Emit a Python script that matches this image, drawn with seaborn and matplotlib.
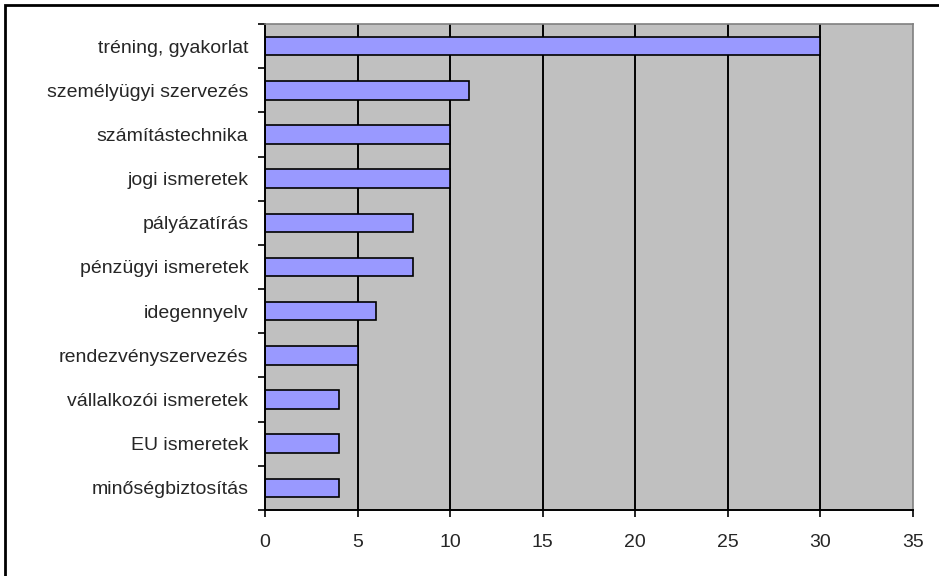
import matplotlib.pyplot as plt
import numpy as np
import pandas as pd
import seaborn as sns
from matplotlib.patches import Rectangle

categories = ["tréning, gyakorlat", "személyügyi szervezés", "számítástechnika",
              "jogi ismeretek", "pályázatírás", "pénzügyi ismeretek", "idegennyelv",
              "rendezvényszervezés", "vállalkozói ismeretek", "EU ismeretek",
              "minőségbiztosítás"]
values = [30, 11, 10, 10, 8, 8, 6, 5, 4, 4, 4]
x_ticks = [0, 5, 10, 15, 20, 25, 30, 35]

df = pd.DataFrame({"cat": categories, "val": values})

sns.set_theme(style="white", rc={"xtick.bottom": True, "ytick.left": True})
plt.rcParams['font.family'] = ['Liberation Sans', 'DejaVu Sans']

fig = plt.figure(figsize=(9.39, 5.76), dpi=100)
ax = fig.add_axes([265 / 939, 1 - 510 / 576, (913 - 265) / 939, (510 - 24) / 576])
ax.set_facecolor("#C0C0C0")

sns.barplot(data=df, x="val", y="cat", orient="h", color="#9999FF",
            saturation=1, edgecolor="black", linewidth=1.2, width=0.42, ax=ax)

ax.set_xlim(0, 35)
ax.set_ylim(len(categories) - 0.5, -0.5)
ax.set_xticks(x_ticks)
ax.set_xticklabels([str(t) for t in x_ticks], fontsize=14)
for t in x_ticks[1:-1]:
    ax.axvline(t, color="black", linewidth=1.4, zorder=0.5)
ax.set_axisbelow(True)

ax.set_yticks(range(len(categories)))
ax.set_yticklabels(categories, fontsize=14)
ax.tick_params(axis="y", which="major", left=True, length=0, pad=12)
ax.set_yticks(np.arange(-0.5, len(categories), 1), minor=True)
ax.tick_params(axis="y", which="minor", left=True, length=5, width=1.2,
               color="black", direction="out")
ax.tick_params(axis="x", which="major", bottom=True, length=5, width=1.2,
               color="black", direction="out", pad=12)
ax.set_xlabel("")
ax.set_ylabel("")

for side in ["top", "right"]:
    ax.spines[side].set_color("#808080")
    ax.spines[side].set_linewidth(1.2)
for side in ["left", "bottom"]:
    ax.spines[side].set_color("black")
    ax.spines[side].set_linewidth(1.4)

fig.patches.append(Rectangle((5 / 939, -0.1), 1.2, 1 - 5 / 576 + 0.1,
                             transform=fig.transFigure, fill=False,
                             edgecolor="black", linewidth=2))

fig.savefig("out.png", dpi=100, facecolor="white")
